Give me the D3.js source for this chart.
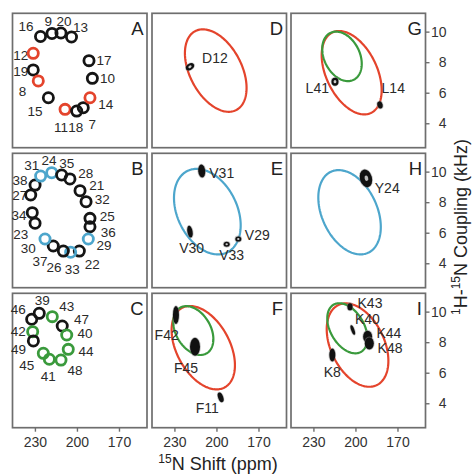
<!DOCTYPE html>
<html><head><meta charset="utf-8">
<script src="https://cdn.jsdelivr.net/npm/d3@7"></script>
<style>body{margin:0;background:#fff} svg{display:block} text{font-family:Arial,"Liberation Sans",sans-serif}</style>
</head><body><svg id="c" width="474" height="474"></svg>
<script>
// ---------------- data ----------------
const xTicks = [230, 200, 170];
const yTicks = [4, 6, 8, 10];
const panelLetters = ["A","B","C","D","E","F","G","H","I"];

// Panel A : residues 7-20
const aRes  = [16, 9, 20, 13, 12, 19, 8, 15, 11, 18, 7, 14, 10, 17];
const aPpm  = [226.0, 217.8, 211.4, 203.9, 231.2, 231.2, 227.6, 220.4, 208.5, 200.2, 195.5, 190.7, 189.0, 191.4];
const aKhz  = [9.68, 9.88, 9.91, 9.65, 8.58, 7.49, 6.77, 5.67, 4.91, 4.80, 5.02, 5.67, 6.94, 8.10];
const aMark = [0,0,0,0,1,0,1,0,1,0,0,1,0,0];

// Panel B : residues 21-38
const bRes  = [38, 27, 31, 24, 35, 28, 21, 32, 25, 36, 29, 22, 33, 26, 37, 30, 23, 34];
const bPpm  = [229.9, 233.0, 225.9, 218.0, 210.9, 205.0, 197.8, 193.5, 190.7, 190.7, 191.9, 198.3, 204.5, 209.7, 216.9, 222.8, 229.9, 231.9];
const bKhz  = [9.12, 8.47, 9.71, 9.93, 9.78, 9.52, 8.75, 8.03, 6.94, 6.39, 5.59, 4.80, 4.72, 4.80, 5.13, 5.59, 6.62, 7.31];
const bMark = [0,0,1,1,0,0,0,0,0,0,1,0,1,0,0,1,0,0];

// Panel C : residues 39-49
const cRes  = [39, 46, 43, 47, 40, 42, 49, 44, 45, 41, 48];
const cPpm  = [226.9, 232.3, 217.6, 210.5, 207.3, 231.6, 231.1, 206.2, 224.0, 219.7, 211.4];
const cKhz  = [9.89, 9.50, 9.67, 9.06, 8.47, 8.69, 8.08, 7.53, 7.27, 6.88, 6.83];
const cMark = [0,0,1,0,1,1,0,1,1,1,1];

// PISEMA wheels (ellipses) in panels D-I
const wPanel = ["D","E","F","F","G","G","H","I","I"];
const wKind  = ["red","blue","red","green","red","green","blue","red","green"];
const wCppm  = [200.5, 206.5, 209.4, 216.5, 202.7, 209.6, 204.2, 198.5, 205.8];
const wCkhz  = [7.45, 7.38, 7.64, 8.76, 7.31, 8.38, 7.34, 7.81, 8.91];
const wRppm  = [22.0, 23.8, 22.6, 14.3, 21.4, 14.1, 22.3, 22.0, 14.3];
const wRkhz  = [2.70, 2.80, 2.73, 1.60, 2.73, 1.62, 2.76, 2.73, 1.64];
const wRho   = [0.42, 0.32, 0.42, 0.35, 0.42, 0.30, 0.35, 0.38, 0.40];

// Resonances (black spots) in panels D-I
const sName  = ["D12","V31","V30","V33","V29","F42","F45","F11","L41","L14","Y24","K43","K40","K44","K48","K8"];
const sPanel = ["D","E","E","E","E","F","F","F","G","G","H","I","I","I","I","I"];
const sPpm   = [218.9, 210.5, 218.9, 192.7, 184.4, 228.9, 215.3, 197.0, 214.6, 182.5, 192.5, 203.9, 201.9, 191.3, 190.1, 216.5];
const sKhz   = [7.70, 10.04, 6.07, 5.24, 5.59, 9.78, 7.70, 4.39, 6.72, 5.20, 9.56, 10.32, 8.80, 8.36, 7.92, 7.16];

// ---------------- layout / style ----------------
const colX = [12.5, 152, 291], rowY = [13.3, 153.3, 293.3];
const PW = 134.5, PH = 134.4;
const colors = {red:"#e4442c", blue:"#4da6cc", green:"#3a9a3c", black:"#151515"};
// label offsets (px) relative to each circle
const aOff = [[-14.5,-10],[-3.7,-12],[3,-11],[9,-9],[-12.5,1.7],[-12.5,1.7],[-15.8,10.7],[-13.3,14],[-4,18],[-1,16.3],[9,17.3],[15.8,6.6],[15.2,0],[15,0]];
const bOff = [[-15,-5],[-11,1],[-9,-11],[-2.7,-12.7],[5,-11.7],[15.7,-5.7],[16.7,-5.7],[16.3,-2.4],[17.3,-2.3],[18.3,5.6],[15.7,7],[13,13.3],[1.6,17.7],[-9.3,16.7],[-13.3,15],[-16.7,9.3],[-14.3,11],[-13.3,2.3]];
const cOff = [[3,-13.3],[-13.4,-9.3],[14.4,-10],[19.4,-6],[18.3,-1],[-14.4,0],[-15,9],[17.7,2.4],[-16.6,11.7],[-1,17.4],[14,10]];
const sOff = [[25,-8.4],[20,2.3],[1.7,16.6],[5,10.7],[19,-4],[-9.3,20],[-9,21.6],[-13.4,11],[-17.7,6.6],[13.3,-16.7],[21.3,10],[20,-3.4],[14.6,-10.7],[21.3,-4],[20.7,5],[0,16.7]];
// spot shapes: rx, ry, rotation, ring
const sShape = [[4.5,3,-35,1],[3.5,6.5,-5,0],[2.6,6,-10,0],[3,2.5,0,1],[3,2.6,0,1],[3,9,0,0],[5,9,0,0],[2.5,5,-20,0],[3.5,4,0,1],[2.6,3.6,-15,0],[6,9,-15,2],[2.6,3.6,0,0],[1.6,5,-20,0],[4.5,6,0,0],[4.5,6,0,0],[3,6.5,0,0]];

// ---------------- drawing ----------------
const svg = d3.select("#c");
const x = d3.scaleLinear().domain([246, 150]).range([0, PW]);
const y = d3.scaleLinear().domain([2.4, 11.2]).range([PH, 0]);

const panels = {};
panelLetters.forEach((L, i) => {
  const col = Math.floor(i / 3), row = i % 3;
  const g = svg.append("g").attr("transform", `translate(${colX[col]},${rowY[row]})`);
  panels[L] = g;
  g.append("rect").attr("width", PW).attr("height", PH)
    .attr("fill", "none").attr("stroke", "#6e6e6e").attr("stroke-width", 1.7);
  g.append("text").attr("x", PW - 3.5).attr("y", 22).attr("text-anchor", "end")
    .attr("font-size", 18.5).attr("fill", "#222").text(L);
  if (row === 2) {
    const ax = g.append("g").attr("transform", `translate(0,${PH})`)
      .call(d3.axisBottom(x).tickValues(xTicks).tickSize(4).tickPadding(5).tickFormat(d3.format("d")));
    ax.select(".domain").remove();
    ax.selectAll("line").attr("stroke", "#6e6e6e").attr("stroke-width", 1.4);
    ax.selectAll("text").attr("font-size", 14).attr("fill", "#333").attr("font-family", "Arial, Liberation Sans, sans-serif");
  }
  if (col === 2) {
    const ay = g.append("g").attr("transform", `translate(${PW},0)`)
      .call(d3.axisRight(y).tickValues(yTicks).tickSize(4).tickPadding(4));
    ay.select(".domain").remove();
    ay.selectAll("line").attr("stroke", "#6e6e6e").attr("stroke-width", 1.4);
    ay.selectAll("text").attr("font-size", 14).attr("fill", "#333")
      .attr("text-anchor", "end").attr("x", 21).attr("font-family", "Arial, Liberation Sans, sans-serif");
  }
});

function drawWheel(L, res, ppm, khz, mark, off, hlColor) {
  const g = panels[L];
  res.forEach((r, i) => {
    g.append("text").attr("x", x(ppm[i]) + off[i][0]).attr("y", y(khz[i]) + off[i][1])
      .attr("text-anchor", "middle").attr("dominant-baseline", "central")
      .attr("font-size", 13.5).attr("fill", "#2a2a2a").text(r);
  });
  res.forEach((r, i) => {
    g.append("circle").attr("cx", x(ppm[i])).attr("cy", y(khz[i])).attr("r", 5.1)
      .attr("fill", "none").attr("stroke", mark[i] ? hlColor : colors.black).attr("stroke-width", 2.8);
  });
}
drawWheel("A", aRes, aPpm, aKhz, aMark, aOff, colors.red);
drawWheel("B", bRes, bPpm, bKhz, bMark, bOff, colors.blue);
drawWheel("C", cRes, cPpm, cKhz, cMark, cOff, colors.green);

const tSamples = d3.range(0, 2 * Math.PI, Math.PI / 90);
const line = d3.line().curve(d3.curveLinearClosed);
wPanel.forEach((L, i) => {
  const s = Math.sqrt(1 - wRho[i] * wRho[i]);
  const pts = tSamples.map(t => [
    x(wCppm[i] + wRppm[i] * Math.cos(t)),
    y(wCkhz[i] + wRkhz[i] * (wRho[i] * Math.cos(t) + s * Math.sin(t)))
  ]);
  panels[L].append("path").attr("d", line(pts)).attr("fill", "none")
    .attr("stroke", colors[wKind[i]]).attr("stroke-width", 2.2);
});

sName.forEach((n, i) => {
  const g = panels[sPanel[i]];
  const cx = x(sPpm[i]), cy = y(sKhz[i]);
  const [rx, ry, rot, ring] = sShape[i];
  const sg = g.append("g").attr("transform", `translate(${cx},${cy}) rotate(${rot})`);
  sg.append("ellipse").attr("rx", rx + 0.8).attr("ry", ry + 0.8).attr("fill", "#888").attr("opacity", 0.5);
  sg.append("ellipse").attr("rx", rx).attr("ry", ry).attr("fill", "#111");
  if (ring === 1) sg.append("ellipse").attr("rx", rx * 0.4).attr("ry", ry * 0.4).attr("fill", "#ccc");
  if (ring === 2) sg.append("ellipse").attr("cx", 0.5).attr("cy", 0).attr("rx", rx * 0.3).attr("ry", ry * 0.3).attr("fill", "#bbb");
  g.append("text").attr("x", cx + sOff[i][0]).attr("y", cy + sOff[i][1])
    .attr("text-anchor", "middle").attr("dominant-baseline", "central")
    .attr("font-size", 14).attr("fill", "#2a2a2a").text(n);
});

// axis titles
const xt = svg.append("text").attr("x", 218).attr("y", 470).attr("text-anchor", "middle")
  .attr("font-size", 18).attr("fill", "#222");
xt.append("tspan").attr("font-size", 12).attr("dy", -7).text("15");
xt.append("tspan").attr("dy", 7).text("N Shift (ppm)");

const yt = svg.append("text").attr("transform", "translate(467,227) rotate(-90)")
  .attr("text-anchor", "middle").attr("font-size", 18).attr("fill", "#222");
yt.append("tspan").attr("font-size", 12).attr("dy", -7).text("1");
yt.append("tspan").attr("dy", 7).text("H-");
yt.append("tspan").attr("font-size", 12).attr("dy", -7).text("15");
yt.append("tspan").attr("dy", 7).text("N Coupling (kHz)");
</script></body></html>
